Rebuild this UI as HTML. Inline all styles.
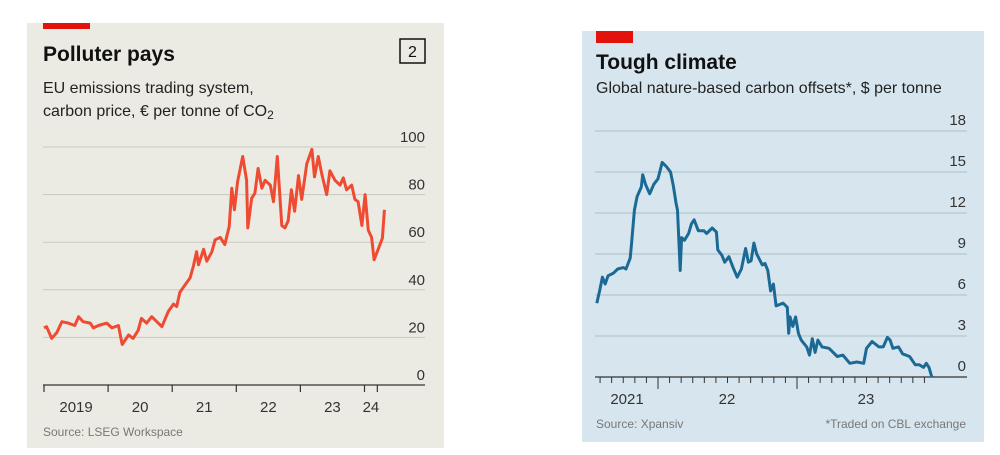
<!DOCTYPE html>
<html><head><meta charset="utf-8">
<style>
body{margin:0;background:#fff;width:1000px;height:455px;overflow:hidden;font-family:"Liberation Sans",sans-serif;}
svg{position:absolute;left:0;top:0}
</style></head>
<body>
<svg id="chart" width="1000" height="455">
  <rect x="27" y="23" width="417" height="425" fill="#ecebe3"/>
  <rect x="43" y="23" width="47" height="6" fill="#e3120b"/>
  <text x="43" y="61" font-size="21" font-weight="bold" fill="#111">Polluter pays</text>
  <rect x="400" y="39" width="25" height="24" fill="none" stroke="#111" stroke-width="1.5"/>
  <text x="412.5" y="57" font-size="16" text-anchor="middle" fill="#111">2</text>
  <text x="43" y="93" font-size="16" fill="#222">EU emissions trading system,</text>
  <text x="43" y="116" font-size="16" fill="#222">carbon price, € per tonne of CO<tspan font-size="12" dy="3">2</tspan></text>
  <text x="43" y="436" font-size="12" fill="#777">Source: LSEG Workspace</text>

  <rect x="582" y="31" width="402" height="411" fill="#d7e6ee"/>
  <rect x="596" y="31" width="37" height="12" fill="#e3120b"/>
  <text x="596" y="69" font-size="21" font-weight="bold" fill="#111">Tough climate</text>
  <text x="596" y="93" font-size="16" fill="#222">Global nature-based carbon offsets*, $ per tonne</text>
  <text x="596" y="428" font-size="12" fill="#777">Source: Xpansiv</text>
  <text x="966" y="428" font-size="12" fill="#777" text-anchor="end">*Traded on CBL exchange</text>
  <g id="L"></g><g id="R"></g>
</svg>
<script>
// Left chart data: years since Jan 2019, EUR per tonne
const euTimes=[0.00,0.04,0.12,0.20,0.28,0.38,0.48,0.54,0.61,0.72,0.77,0.85,0.98,1.06,1.16,1.22,1.32,1.39,1.47,1.52,1.60,1.68,1.76,1.84,1.94,2.02,2.07,2.12,2.20,2.28,2.33,2.38,2.41,2.49,2.54,2.62,2.67,2.75,2.82,2.89,2.93,2.97,3.02,3.10,3.16,3.18,3.24,3.29,3.34,3.40,3.45,3.53,3.58,3.64,3.71,3.76,3.81,3.86,3.91,3.97,4.02,4.10,4.18,4.22,4.28,4.33,4.41,4.46,4.54,4.62,4.67,4.72,4.80,4.85,4.90,4.96,5.01,5.06,5.11,5.15,5.22,5.28,5.31];
const euValues=[24,24.5,19.6,22,26.6,26,25,28.7,26.6,26,24,25,26,24,25,17,21,19.6,23,28,26,28.7,26.6,24.5,31,34,33,39,42,45,50,56,50.5,57,52,56,61,62,59,66.6,82.7,73.6,85.5,96,86,66,78.5,80.6,91,82.7,86,84,77,96,67,66,69,82,73,88,78,93,99,87.5,96,89,80,90,86,84,87,82,84,78,77,67,80,65,62,52.6,57.5,61.7,73.6];
const euTicks=[0,20,40,60,80,100];
const euYears=["2019","20","21","22","23","24"];
// Right chart data: years since Jan 2022, $ per tonne
const cbTimes=[-0.44,-0.42,-0.40,-0.38,-0.36,-0.32,-0.29,-0.25,-0.23,-0.20,-0.19,-0.17,-0.15,-0.12,-0.11,-0.09,-0.06,-0.03,0.00,0.03,0.06,0.09,0.11,0.13,0.14,0.16,0.17,0.19,0.22,0.24,0.26,0.29,0.33,0.35,0.39,0.42,0.43,0.46,0.48,0.51,0.54,0.57,0.60,0.63,0.65,0.67,0.69,0.71,0.75,0.77,0.79,0.81,0.83,0.85,0.90,0.93,0.94,0.95,0.97,0.99,1.01,1.03,1.07,1.09,1.11,1.13,1.15,1.18,1.23,1.29,1.33,1.38,1.43,1.48,1.50,1.54,1.59,1.62,1.65,1.67,1.69,1.73,1.76,1.81,1.85,1.88,1.91,1.93,1.95,1.97];
const cbValues=[5.4,6.3,7.3,6.8,7.4,7.6,7.9,8.0,7.9,8.7,9.8,12.2,13.2,13.9,14.8,14.1,13.4,14.1,14.5,15.7,15.4,15.0,14.0,12.7,12.2,7.8,10.2,10.0,10.5,11.2,11.5,10.7,10.7,10.5,10.9,10.6,9.3,8.9,8.4,8.8,8.0,7.3,7.9,9.4,8.4,8.5,9.8,9.0,8.2,8.3,7.8,6.3,6.8,5.2,5.4,5.1,3.2,4.4,3.7,4.4,3.2,2.7,2.2,1.6,2.8,1.8,2.7,2.2,2.1,1.5,1.6,1.0,1.1,1.0,2.1,2.6,2.2,2.2,2.9,2.7,2.1,2.2,1.7,1.5,0.9,0.9,0.7,1.0,0.7,0];
const cbTicks=[0,3,6,9,12,15,18];
const cbYears=["2021","22","23"];

const NS="http://www.w3.org/2000/svg";
function mk(parent,tag,attrs){const e=document.createElementNS(NS,tag);for(const k in attrs)e.setAttribute(k,attrs[k]);parent.appendChild(e);return e;}

// Left axes
const lx=t=>44+t*64.1, ly=v=>385-v*2.38;
const L=document.getElementById('L');
euTicks.forEach(v=>{
  if(v>0){const g=mk(L,'line',{x1:43,x2:425,y1:ly(v),y2:ly(v),stroke:'#c9c8c0','stroke-width':1});
  
  }
  const t=mk(L,'text',{x:425,y:ly(v)-5,'font-size':15,'text-anchor':'end',fill:'#333'});t.textContent=v;
  
  
});
const la=mk(L,'line',{x1:43,x2:425,y1:385,y2:385,stroke:'#333','stroke-width':1.2});


[0,1,2,3,4,5,5.2].forEach(t=>{const k=mk(L,'line',{x1:lx(t),x2:lx(t),y1:385,y2:392,stroke:'#333','stroke-width':1.2});
  
  });
euYears.forEach((s,i)=>{const c=i<5?lx(i+0.5):lx(5.1);
  const t=mk(L,'text',{x:c,y:412,'font-size':15,'text-anchor':'middle',fill:'#333'});t.textContent=s;
  
  });
const lp=mk(L,'path',{d:euTimes.map((t,i)=>(i?'L':'M')+lx(t).toFixed(1)+','+ly(euValues[i]).toFixed(1)).join(''),fill:'none',stroke:'#ef4b33','stroke-width':3,'stroke-linejoin':'round'});



// Right axes
const rx=t=>658+t*139, ry=v=>377-v*13.67;
const R=document.getElementById('R');
cbTicks.forEach(v=>{
  if(v>0){const g=mk(R,'line',{x1:595,x2:967,y1:ry(v),y2:ry(v),stroke:'#aebfc8','stroke-width':1});
  
  }
  const t=mk(R,'text',{x:966,y:ry(v)-6,'font-size':15,'text-anchor':'end',fill:'#333'});t.textContent=v;
  
  
});
const ra=mk(R,'line',{x1:595,x2:967,y1:377,y2:377,stroke:'#333','stroke-width':1.2});


for(let m=-5;m<=24;m++){const x=rx(m/12);if(x<594||x>935)continue;const big=m%12===0;
  const k=mk(R,'line',{x1:x,x2:x,y1:377,y2:big?389:383,stroke:'#333','stroke-width':1});
  
  }
[627,727,866].forEach((x,i)=>{const t=mk(R,'text',{x:x,y:404,'font-size':15,'text-anchor':'middle',fill:'#333'});t.textContent=cbYears[i];
  
  });
const rp=mk(R,'path',{d:cbTimes.map((t,i)=>(i?'L':'M')+rx(t).toFixed(1)+','+ry(cbValues[i]).toFixed(1)).join(''),fill:'none',stroke:'#1b6a96','stroke-width':3,'stroke-linejoin':'round'});


</script>
</body></html>
